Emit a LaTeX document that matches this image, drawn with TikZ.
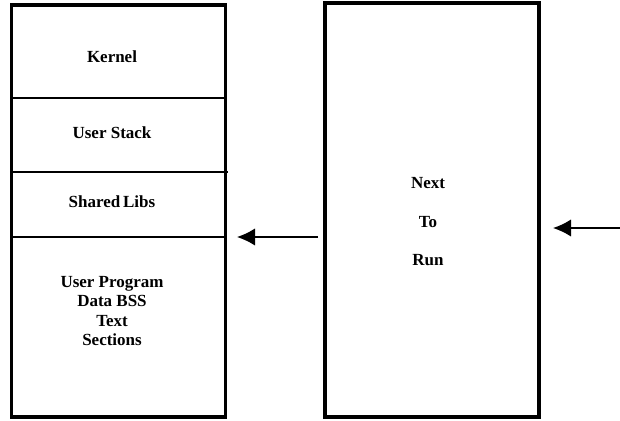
\documentclass[tikz,border=0pt]{standalone}
\usepackage{fontspec}
\setmainfont{Liberation Serif}
\usepackage{tikz}
\usetikzlibrary{
  arrows.meta,
  positioning,
  calc
}
\tikzset{
  membox/.style  = {draw, line width = 2.6pt, inner sep = 0pt},
  divider/.style = {line width = 1.2pt},
  label/.style   = {font = \fontsize{14.5}{16.5}\selectfont\bfseries, align = center, inner sep = 0pt},
  pointer/.style = {line width = 1.3pt, -{Latex[length = 5.4mm, width = 5.2mm]}}
}

\begin{document}
\begin{tikzpicture}[x = 0.03cm, y = -0.03cm]
  \useasboundingbox (0, 0) rectangle (620, 420);

  % Address space of the process
  \node [membox, minimum width = 6.41cm, minimum height = 12.36cm] (mem)  at (118.25, 211) {};
  \node [membox, minimum width = 6.42cm, minimum height = 12.42cm] (runq) at (432.0,  210) {};

  % Section borders
  \draw [divider] (11.5,  98) -- (225,  98);
  \draw [divider] (11.5, 172) -- (228, 172);
  \draw [divider] (11.5, 237) -- (225, 237);

  % Section names
  \node [label] (kernel) at (112,  57) {Kernel};
  \node [label] (stack)  at (112, 133) {User Stack};
  \node [label] (libs)   at (112, 202) {Shared\,Libs};
  \node [label] (prog)   at (112, 311) {User Program\\Data BSS\\Text\\Sections};

  % Run queue
  \node [label] (next) at (428, 183) {Next};
  \node [label] (to)   at (428, 222) {To};
  \node [label] (run)  at (428, 260) {Run};

  % Arrows
  \coordinate (tailA) at (318, 237);
  \coordinate (tipA)  at (237, 237);
  \coordinate (tailB) at (620, 228);
  \coordinate (tipB)  at (553, 228);
  \draw [pointer] (tailA) -- (tipA);
  \draw [pointer] (tailB) -- (tipB);
\end{tikzpicture}
\end{document}
